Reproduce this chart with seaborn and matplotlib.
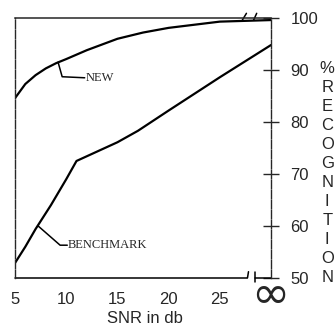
import pandas as pd
import matplotlib
matplotlib.use("Agg")
import matplotlib.pyplot as plt
import seaborn as sns

# SNR (db); the last point stands for infinity, drawn at 30
snr_new = [5, 6, 7, 8, 9, 10, 12, 15, 17.5, 20, 25, 30]
rec_new = [84.6, 87.3, 89.0, 90.3, 91.3, 92.1, 93.8, 96.0, 97.2, 98.1, 99.3, 99.6]

snr_bench = [5, 6, 7, 8.5, 10, 11, 13, 15, 17, 20, 22.5, 25, 27.5, 30]
rec_bench = [52.9, 56.0, 59.4, 64.0, 69.0, 72.5, 74.3, 76.1, 78.3, 82.2, 85.4, 88.6, 91.7, 94.8]

x_ticks = [5, 10, 15, 20, 25, 30]
x_labels = ["5", "10", "15", "20", "25", ""]
y_ticks = [50, 60, 70, 80, 90, 100]

df_new = pd.DataFrame({"snr": snr_new, "rec": rec_new})
df_bench = pd.DataFrame({"snr": snr_bench, "rec": rec_bench})

sns.set_style("white")
plt.rcParams["font.family"] = ["Liberation Sans", "DejaVu Sans"]

fig = plt.figure(figsize=(3.35, 3.27), dpi=100)
ax = fig.add_axes([0.045, 0.150, 0.764, 0.795])

sns.lineplot(data=df_new, x="snr", y="rec", color="black", lw=1.6, ax=ax)
sns.lineplot(data=df_bench, x="snr", y="rec", color="black", lw=1.6, ax=ax)

ax.set_xlim(5, 30)
ax.set_ylim(50, 100)

# spines
for s in ["left", "right"]:
    ax.spines[s].set_linestyle((0, (6, 1.2)))
    ax.spines[s].set_linewidth(1.0)
ax.spines["top"].set_linewidth(1.1)
ax.spines["bottom"].set_visible(False)

# bottom axis with a break between 25 and infinity
k = dict(color="black", lw=1.1, clip_on=False)
ax.plot([5, 27.7], [50, 50], **k)
ax.plot([28.4, 30], [50, 50], **k)
ax.plot([27.7, 27.8], [50, 51.2], **k)
ax.plot([28.4, 28.4], [49.2, 51.2], **k)
# break marks on top spine
ax.plot([27.2, 27.6], [99.6, 100.9], **k)
ax.plot([28.3, 28.6], [99.6, 100.9], **k)

ax.set_xticks(x_ticks)
ax.set_xticklabels(x_labels)
ax.set_yticks(y_ticks)
ax.yaxis.tick_right()
ax.tick_params(axis="x", direction="inout", length=7, width=1, labelsize=12, pad=6.5)
ax.tick_params(axis="y", direction="inout", length=11, width=1, labelsize=12, pad=8.5)
ax.set_xlabel("")
ax.set_ylabel("")

# infinity label for the last tick
ax.annotate("∞", xy=(30, 50), xytext=(-0.5, -12.5), textcoords="offset points",
            ha="center", va="center", fontsize=33, family="DejaVu Sans",
            annotation_clip=False)

fig.text(145 / 335, 1 - 323 / 327, "SNR in db", fontsize=12, ha="center", va="baseline")

# leaders and labels
ax.plot([9.2, 9.6, 11.8], [91.5, 88.7, 88.5], color="black", lw=1.1)
ax.text(11.9, 88.5, "NEW", fontsize=9, family="Liberation Serif", va="center")
ax.plot([7.25, 9.4, 10.1], [60.0, 56.3, 56.3], color="black", lw=1.1)
ax.text(10.1, 56.3, "BENCHMARK", fontsize=9, family="Liberation Serif", va="center")

fig.text(0.977, 1 - 173 / 327, "\n".join("%RECOGNITION"), fontsize=12, ha="center",
         va="center", linespacing=1.33)

fig.savefig("out.png", dpi=100)
